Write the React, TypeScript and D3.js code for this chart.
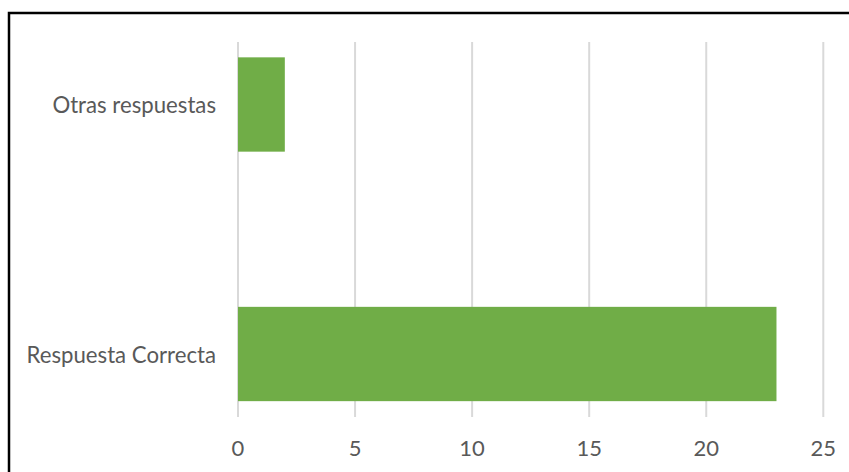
import React from "react";
import * as d3 from "d3";

const categories = ["Otras respuestas", "Respuesta Correcta"];
const values = [2, 23];
const xTicks = [0, 5, 10, 15, 20, 25];

const W = 849;
const H = 472;

export default function App() {
  const x = d3.scaleLinear().domain([0, 25]).range([238, 823.3]);
  const y = d3
    .scaleBand<string>()
    .domain(categories)
    .range([-20.25, 478.75])
    .paddingInner(0.622)
    .paddingOuter(0.311);
  const font = "Lato, 'Open Sans', sans-serif";
  const textColor = "#595959";
  return (
    <svg
      width={W}
      height={H}
      style={{ position: "absolute", left: 0, top: 0, background: "#fff" }}
    >
      <rect x={0} y={0} width={W} height={H} fill="#fff" />
      {xTicks.map((t) => (
        <line
          key={t}
          x1={x(t)}
          x2={x(t)}
          y1={42}
          y2={417}
          stroke="#d9d9d9"
          strokeWidth={2}
        />
      ))}
      {categories.map((c, i) => (
        <rect
          key={c}
          x={x(0)}
          y={y(c)!}
          width={x(values[i]) - x(0)}
          height={y.bandwidth()}
          fill="#70ad47"
        />
      ))}
      {categories.map((c) => (
        <text
          key={c}
          x={216}
          y={y(c)! + y.bandwidth() / 2}
          textAnchor="end"
          dominantBaseline="central"
          fontFamily={font}
          fontSize={22.2}
          fill={textColor}
        >
          {c}
        </text>
      ))}
      {xTicks.map((t) => (
        <text
          key={t}
          x={x(t)}
          y={456}
          textAnchor="middle"
          fontFamily={font}
          fontSize={22}
          fill={textColor}
        >
          {t}
        </text>
      ))}
      <rect
        x={9}
        y={13}
        width={W + 20}
        height={H + 20}
        fill="none"
        stroke="#000"
        strokeWidth={2.5}
      />
    </svg>
  );
}
